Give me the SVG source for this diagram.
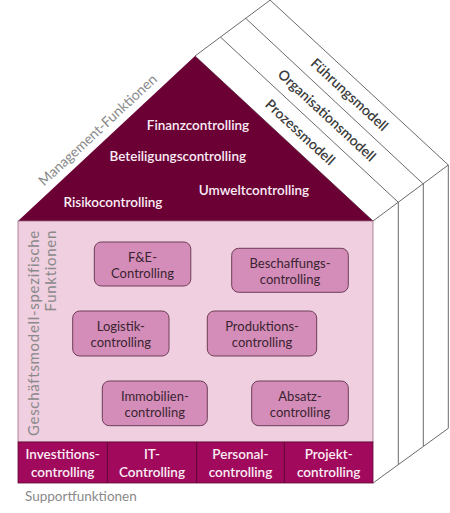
<svg xmlns="http://www.w3.org/2000/svg" width="450" height="513" viewBox="0 0 450 513">
<style>
.ln{stroke:#6a6a6a;stroke-width:1;fill:none}
.roof{font-family:Lato,"Open Sans",sans-serif;font-size:13.5px;font-weight:600;fill:#fbeef5;text-anchor:middle}
.band{font-family:Lato,"Open Sans",sans-serif;font-size:13.5px;font-weight:600;fill:#fbeef5;text-anchor:middle}
.box rect{fill:#d48db8;stroke:#6e3e58;stroke-width:1}
.box text{font-family:Lato,"Open Sans",sans-serif;font-size:13px;fill:#3a2431;text-anchor:middle}
.gray{font-family:Lato,"Open Sans",sans-serif;font-size:14px;fill:#8a8a8a}
.vert{font-size:15px;letter-spacing:0.7px}
.strip{font-family:Lato,"Open Sans",sans-serif;font-size:14px;font-weight:600;fill:#3a3a3a;text-anchor:middle}
</style>
<rect width="450" height="513" fill="#ffffff"/>
<g id="connectors">
<line class="ln" x1="195" y1="56" x2="271" y2="-0.5"/>
<line class="ln" x1="195" y1="56" x2="373" y2="221"/>
<line class="ln" x1="220.7" y1="37.3" x2="398.3" y2="202.3"/>
<line class="ln" x1="245.7" y1="18.3" x2="423.3" y2="184"/>
<line class="ln" x1="270" y1="0" x2="448.3" y2="165"/>
<line class="ln" x1="373" y1="221" x2="448.3" y2="165"/>
<line class="ln" x1="398.3" y1="202.3" x2="398.3" y2="464.3"/>
<line class="ln" x1="423.3" y1="184" x2="423.3" y2="446"/>
<line class="ln" x1="448.3" y1="165" x2="448.3" y2="428.3"/>
<line class="ln" x1="373" y1="483" x2="448.3" y2="428.3"/>
</g>
<g id="strips">
<text class="strip" transform="translate(296.9,135.8) rotate(42.8)">Prozessmodell</text>
<text class="strip" transform="translate(323.6,118.9) rotate(42.8)">Organisationsmodell</text>
<text class="strip" transform="translate(346.2,98.2) rotate(42.8)">Führungsmodell</text>
</g>
<g id="roof">
<polygon points="18,221 195,56 373,221" fill="#6b0035"/>
<text class="roof" x="198" y="129.5">Finanzcontrolling</text>
<text class="roof" x="177.8" y="160.5">Beteiligungscontrolling</text>
<text class="roof" x="254" y="195">Umweltcontrolling</text>
<text class="roof" x="113" y="206.5">Risikocontrolling</text>
</g>
<text id="management" class="gray" text-anchor="middle" transform="translate(101,133.5) rotate(-43)">Management-Funktionen</text>
<g id="body">
<rect x="18" y="221" width="355" height="221" fill="#f0cfe0" stroke="#9a6f86" stroke-width="0.8"/>
<text class="gray vert" text-anchor="end" transform="translate(38.5,230) rotate(-90)">Geschäftsmodell-spezifische</text>
<text class="gray vert" text-anchor="end" transform="translate(56,230) rotate(-90)">Funktionen</text>
</g>
<g id="fe" class="box"><rect x="94.3" y="242" width="96.5" height="44" rx="7"/><text x="142.5" y="261.5">F&amp;E-</text><text x="142.5" y="278">Controlling</text></g>
<g id="beschaffung" class="box"><rect x="231.7" y="248.3" width="116.6" height="44" rx="7"/><text x="290" y="267.5">Beschaffungs-</text><text x="290" y="284">controlling</text></g>
<g id="logistik" class="box"><rect x="72.7" y="311" width="96.3" height="45" rx="7"/><text x="120.8" y="330.5">Logistik-</text><text x="120.8" y="347">controlling</text></g>
<g id="produktion" class="box"><rect x="207.3" y="311" width="109.4" height="45" rx="7"/><text x="262" y="330.5">Produktions-</text><text x="262" y="347">controlling</text></g>
<g id="immobilien" class="box"><rect x="102.3" y="381" width="105" height="44.7" rx="7"/><text x="154.8" y="400.5">Immobilien-</text><text x="154.8" y="417">controlling</text></g>
<g id="absatz" class="box"><rect x="251.7" y="381" width="96.6" height="44.7" rx="7"/><text x="300" y="400.5">Absatz-</text><text x="300" y="417">controlling</text></g>
<g id="support">
<rect x="18" y="442" width="355" height="41" fill="#a10a5c" stroke="#5e0633" stroke-width="0.8"/>
<line x1="107.3" y1="442" x2="107.3" y2="483" stroke="#5e0633" stroke-width="1"/>
<line x1="196.7" y1="442" x2="196.7" y2="483" stroke="#5e0633" stroke-width="1"/>
<line x1="284.3" y1="442" x2="284.3" y2="483" stroke="#5e0633" stroke-width="1"/>
<text class="band" x="62.7" y="459">Investitions-</text><text class="band" x="62.7" y="477">controlling</text>
<text class="band" x="152" y="459">IT-</text><text class="band" x="152" y="477">Controlling</text>
<text class="band" x="240.5" y="459">Personal-</text><text class="band" x="240.5" y="477">controlling</text>
<text class="band" x="328.7" y="459">Projekt-</text><text class="band" x="328.7" y="477">controlling</text>
<text class="gray" x="25" y="501" style="font-size:13.5px">Supportfunktionen</text>
</g>
</svg>
